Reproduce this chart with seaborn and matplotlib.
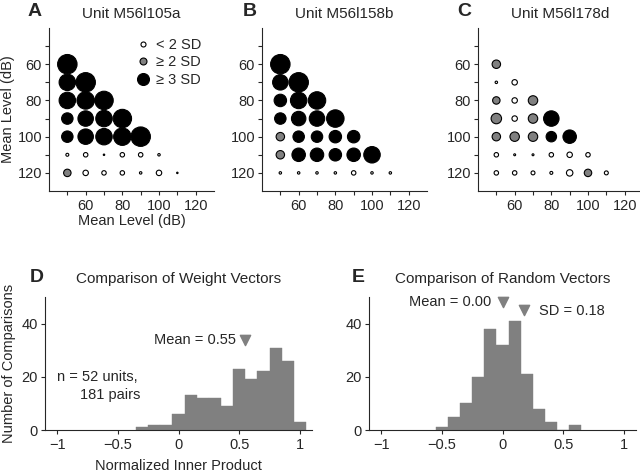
import numpy as np
import pandas as pd
import matplotlib
matplotlib.use("Agg")
import matplotlib.pyplot as plt
import seaborn as sns
from matplotlib.lines import Line2D

# ---------------- data ----------------
x_levels = [50, 60, 70, 80, 90, 100, 110]
y_levels = [60, 70, 80, 90, 100, 110, 120]
level_ticks = [50, 60, 70, 80, 90, 100, 110, 120]
level_tick_labels = ["", "60", "", "80", "", "100", "", "120"]

unit_names = ["Unit M56l105a", "Unit M56l158b", "Unit M56l178d"]
panel_letters = ["A", "B", "C", "D", "E"]
sig_labels = ["< 2 SD", "\u2265 2 SD", "\u2265 3 SD"]

# weight magnitude (row = second level 60..120, columns = first level from 50)
weights_A = [[20], [17, 20], [17, 18, 19], [12, 16, 17, 19], [12, 16, 17, 18, 20],
             [3.5, 5, 2, 5, 5, 3], [8, 6, 5, 5, 3, 6, 2]]
signif_A = [[2], [2, 2], [2, 2, 2], [2, 2, 2, 2], [2, 2, 2, 2, 2],
            [0, 0, 0, 0, 0, 0], [1, 0, 0, 0, 0, 0, 0]]

weights_B = [[20], [16, 20], [13, 17, 18], [12, 15, 16, 18], [9, 12, 12, 13, 13],
             [9, 14, 14, 13, 14, 17], [3, 3, 3, 3, 5, 3, 3]]
signif_B = [[2], [2, 2], [2, 2, 2], [2, 2, 2, 2], [1, 2, 2, 2, 2],
            [1, 2, 2, 2, 2, 2], [0, 0, 0, 0, 0, 0, 0]]

weights_C = [[9], [3, 6], [8, 6, 10], [11, 6, 10, 16], [9, 10, 10, 11, 14],
             [5, 2.5, 2.5, 5, 6, 5], [5, 5, 4.5, 3.5, 7, 8, 4.5]]
signif_C = [[1], [0, 0], [1, 0, 1], [1, 0, 1, 2], [1, 1, 1, 2, 2],
            [0, 0, 0, 0, 0, 0], [0, 0, 0, 0, 0, 1, 0]]

# histograms (bin centres, counts)
centers_D = [-0.3, -0.2, -0.1, 0.0, 0.1, 0.2, 0.3, 0.4, 0.5, 0.6, 0.7, 0.8, 0.9, 1.0]
counts_D = [1, 2, 2, 6, 13, 12, 12, 9, 23, 19, 22, 31, 26, 3]
centers_E = [-0.5, -0.4, -0.3, -0.2, -0.1, 0.0, 0.1, 0.2, 0.3, 0.4, 0.5, 0.6]
counts_E = [1, 5, 10, 20, 38, 32, 41, 21, 8, 3, 0, 2]
mean_D = 0.55
mean_E = 0.00
sd_E = 0.18
hist_xticks = [-1, -0.5, 0, 0.5, 1]
hist_xticklabels = ["\u22121", "\u22120.5", "0", "0.5", "1"]
hist_yticks = [0, 20, 40]

# ---------------- style ----------------
sns.set_style("ticks")
plt.rcParams["font.family"] = ["Liberation Sans", "DejaVu Sans"]
plt.rcParams["font.size"] = 10.5
plt.rcParams["axes.linewidth"] = 0.8
plt.rcParams["xtick.major.width"] = 0.8
plt.rcParams["ytick.major.width"] = 0.8
plt.rcParams["xtick.major.size"] = 3
plt.rcParams["ytick.major.size"] = 3
plt.rcParams["xtick.major.pad"] = 2.5
plt.rcParams["ytick.major.pad"] = 2
plt.rcParams["xtick.labelsize"] = 10.5
plt.rcParams["ytick.labelsize"] = 10.5
plt.rcParams["axes.labelsize"] = 10.5

GRAY = "#808080"
sig_palette = {0: "white", 1: GRAY, 2: "black"}

W, H = 640, 475
fig = plt.figure(figsize=(6.4, 4.75), dpi=100)


def px_axes(left, top, width, height):
    return fig.add_axes([left / W, 1 - (top + height) / H, width / W, height / H])


def build_df(weights, signif):
    rows = []
    for i, (wrow, srow) in enumerate(zip(weights, signif)):
        for j, (w, s) in enumerate(zip(wrow, srow)):
            rows.append({"first": x_levels[j], "second": y_levels[i], "w": w, "sig": s})
    return pd.DataFrame(rows)


scatter_lefts = [49, 262, 478]
scatter_sets = [(weights_A, signif_A), (weights_B, signif_B), (weights_C, signif_C)]
for k, (left, (wts, sgs)) in enumerate(zip(scatter_lefts, scatter_sets)):
    ax = px_axes(left, 28, 165, 163)
    df = build_df(wts, sgs)
    size_map = {w: (0.72 * w - 0.4) ** 2 for w in df["w"].unique()}
    sns.scatterplot(data=df, x="first", y="second", hue="sig", size="w",
                    sizes=size_map, palette=sig_palette, edgecolor="black",
                    linewidth=0.8, legend=False, ax=ax, zorder=3)
    ax.set_xlim(40, 130)
    ax.set_ylim(130, 40)
    ax.set_xticks(level_ticks)
    ax.set_xticklabels(level_tick_labels)
    ax.set_yticks(level_ticks)
    ax.set_yticklabels(level_tick_labels)
    sns.despine(ax=ax)
    ax.set_title(unit_names[k], fontsize=11, pad=7)
    if k == 0:
        ax.set_xlabel("Mean Level (dB)", labelpad=1)
        ax.set_ylabel("Mean Level (dB)", labelpad=2)
        handles = [Line2D([], [], ls="none", marker="o", mfc="white", mec="black", mew=0.8, ms=3.6),
                   Line2D([], [], ls="none", marker="o", mfc=GRAY, mec="black", mew=0.8, ms=5),
                   Line2D([], [], ls="none", marker="o", mfc="black", mec="black", mew=0.8, ms=8.6)]
        ax.legend(handles, sig_labels, loc="upper left", bbox_to_anchor=(0.525, 0.94),
                  frameon=False, handlelength=1.0, handletextpad=0.4, borderpad=0,
                  borderaxespad=0, labelspacing=0.25, fontsize=10.5)
    else:
        ax.set_xlabel("")
        ax.set_ylabel("")

hist_sets = [(45, centers_D, counts_D, (-0.35, 1.05), "Comparison of Weight Vectors"),
             (369, centers_E, counts_E, (-0.55, 0.65), "Comparison of Random Vectors")]
hist_axes = []
for left, centers, counts, brange, title in hist_sets:
    ax = px_axes(left, 297, 267, 133)
    sns.histplot(x=centers, weights=counts, binwidth=0.1, binrange=brange,
                 color=GRAY, alpha=1, edgecolor=GRAY, linewidth=0.3, ax=ax)
    ax.set_xlim(-1.1, 1.1)
    ax.set_ylim(0, 50)
    ax.set_xticks(hist_xticks)
    ax.set_xticklabels(hist_xticklabels)
    ax.set_yticks(hist_yticks)
    sns.despine(ax=ax)
    ax.set_ylabel("")
    ax.set_title(title, fontsize=11, pad=10)
    hist_axes.append(ax)

axD, axE = hist_axes
axD.set_ylabel("Number of Comparisons", labelpad=4)
axD.set_xlabel("Normalized Inner Product", labelpad=5)
trD = axD.get_xaxis_transform()
axD.scatter([mean_D], [0.68], transform=trD, marker="v", s=55, color=GRAY, clip_on=False)
axD.text(mean_D - 0.08, 0.68, f"Mean = {mean_D:.2f}", transform=trD, ha="right", va="center")
axD.text(-1.0, 0.40, "n = 52 units,", transform=trD, ha="left", va="center")
axD.text(-0.81, 0.265, "181 pairs", transform=trD, ha="left", va="center")

trE = axE.get_xaxis_transform()
axE.scatter([mean_E], [0.96], transform=trE, marker="v", s=55, color=GRAY, clip_on=False)
axE.scatter([sd_E], [0.90], transform=trE, marker="v", s=55, color=GRAY, clip_on=False)
axE.text(mean_E - 0.09, 0.96, f"Mean = {mean_E:.2f}", transform=trE, ha="right", va="center")
axE.text(sd_E + 0.12, 0.895, f"SD = {sd_E:.2f}", transform=trE, ha="left", va="center")

letter_pos = [(28, 11), (243, 11), (457, 11), (30, 277), (352, 277)]
for letter, (lx, ly) in zip(panel_letters, letter_pos):
    fig.text(lx / W, 1 - ly / H, letter, fontsize=14, fontweight="bold", ha="left", va="center")

fig.savefig("out.png", dpi=100)
